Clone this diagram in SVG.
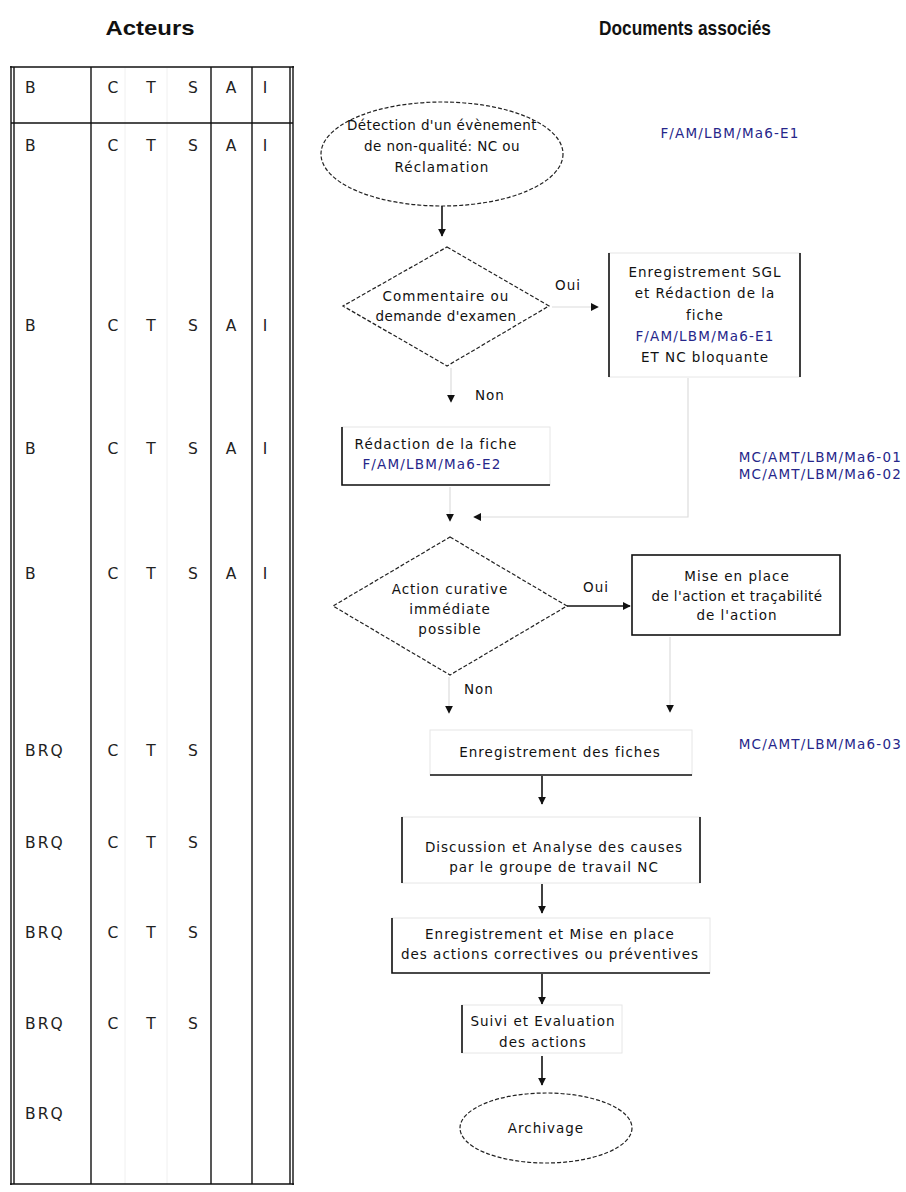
<svg xmlns="http://www.w3.org/2000/svg" width="906" height="1192" viewBox="0 0 906 1192">
<defs>
<style>
text{font-family:"DejaVu Sans","Liberation Sans",sans-serif;font-size:13.5px;letter-spacing:1px;fill:#111}
.hd{font-family:"Liberation Sans",Arial,sans-serif;font-weight:bold;font-size:21px;letter-spacing:0;fill:#111}
.tb{font-size:15.5px;letter-spacing:2px;fill:#222}
.c{text-anchor:middle}
.ref{fill:#26268a;font-size:13.5px;letter-spacing:1.2px}
.ln{stroke:#111;stroke-width:1.6;fill:none}
.tl{stroke:#111;stroke-width:1.4;fill:none}
.fa{stroke:#e6e6e6;stroke-width:1;fill:none}
.dash{stroke:#222;stroke-width:1.2;stroke-dasharray:4 2;fill:#fff}
.arr{stroke:#111;stroke-width:1.6;fill:none;marker-end:url(#ah)}
.farr{stroke:#dcdcdc;stroke-width:1.2;fill:none;marker-end:url(#ah)}
.tight{letter-spacing:0.4px}
</style>
<marker id="ah" viewBox="0 0 10 10" refX="9" refY="5" markerWidth="8" markerHeight="8" markerUnits="userSpaceOnUse" orient="auto">
<path d="M0,0 L10,5 L0,10 z" fill="#111" stroke="none"/>
</marker>
</defs>
<rect width="906" height="1192" fill="#fff"/>

<g id="headers">
<text class="hd c" x="150" y="35" textLength="89" lengthAdjust="spacingAndGlyphs">Acteurs</text>
<text class="hd c" x="685" y="35" textLength="172" lengthAdjust="spacingAndGlyphs">Documents associés</text>
</g>

<g id="table">
<line x1="125" y1="68" x2="125" y2="1184" stroke="#f0f0f0" stroke-width="1"/>
<line x1="167" y1="68" x2="167" y2="1184" stroke="#f0f0f0" stroke-width="1"/>
<line class="tl" x1="10" y1="67" x2="294" y2="67" stroke-width="2"/>
<line class="tl" x1="11" y1="123" x2="293" y2="123"/>
<line class="tl" x1="10" y1="1184" x2="294" y2="1184" stroke-width="1.6"/>
<line class="tl" x1="11" y1="66" x2="11" y2="1185"/>
<line class="tl" x1="14" y1="67" x2="14" y2="1184"/>
<line class="tl" x1="91" y1="67" x2="91" y2="1184"/>
<line class="tl" x1="211" y1="67" x2="211" y2="1184"/>
<line class="tl" x1="252" y1="67" x2="252" y2="1184"/>
<line class="tl" x1="290" y1="67" x2="290" y2="1184"/>
<line class="tl" x1="293" y1="66" x2="293" y2="1185"/>
<g class="tb">
<text class="tb" x="25" y="93">B</text><text class="tb c" x="114" y="93">C</text><text class="tb c" x="152" y="93">T</text><text class="tb c" x="194" y="93">S</text><text class="tb c" x="232" y="93">A</text><text class="tb c" x="266" y="93">I</text>
<text class="tb" x="25" y="151">B</text><text class="tb c" x="114" y="151">C</text><text class="tb c" x="152" y="151">T</text><text class="tb c" x="194" y="151">S</text><text class="tb c" x="232" y="151">A</text><text class="tb c" x="266" y="151">I</text>
<text class="tb" x="25" y="331">B</text><text class="tb c" x="114" y="331">C</text><text class="tb c" x="152" y="331">T</text><text class="tb c" x="194" y="331">S</text><text class="tb c" x="232" y="331">A</text><text class="tb c" x="266" y="331">I</text>
<text class="tb" x="25" y="454">B</text><text class="tb c" x="114" y="454">C</text><text class="tb c" x="152" y="454">T</text><text class="tb c" x="194" y="454">S</text><text class="tb c" x="232" y="454">A</text><text class="tb c" x="266" y="454">I</text>
<text class="tb" x="25" y="579">B</text><text class="tb c" x="114" y="579">C</text><text class="tb c" x="152" y="579">T</text><text class="tb c" x="194" y="579">S</text><text class="tb c" x="232" y="579">A</text><text class="tb c" x="266" y="579">I</text>
<text class="tb" x="25" y="756">BRQ</text><text class="tb c" x="114" y="756">C</text><text class="tb c" x="152" y="756">T</text><text class="tb c" x="194" y="756">S</text>
<text class="tb" x="25" y="848">BRQ</text><text class="tb c" x="114" y="848">C</text><text class="tb c" x="152" y="848">T</text><text class="tb c" x="194" y="848">S</text>
<text class="tb" x="25" y="938">BRQ</text><text class="tb c" x="114" y="938">C</text><text class="tb c" x="152" y="938">T</text><text class="tb c" x="194" y="938">S</text>
<text class="tb" x="25" y="1029">BRQ</text><text class="tb c" x="114" y="1029">C</text><text class="tb c" x="152" y="1029">T</text><text class="tb c" x="194" y="1029">S</text>
<text class="tb" x="25" y="1119">BRQ</text>
</g>
</g>

<g id="connectors">
<line class="arr" x1="442" y1="206" x2="442" y2="236"/>
<line class="farr" x1="552" y1="307" x2="598" y2="307"/>
<line class="farr" x1="451" y1="368" x2="451" y2="402"/>
<text x="475" y="400">Non</text>
<text x="555" y="290">Oui</text>
<line class="farr" x1="450" y1="487" x2="450" y2="521"/>
<polyline class="farr" points="688,378 688,517 474,517"/>
<line class="arr" x1="567" y1="606" x2="630" y2="606"/>
<text x="583" y="592">Oui</text>
<line class="farr" x1="449" y1="677" x2="449" y2="713"/>
<text x="464" y="694">Non</text>
<line class="farr" x1="670" y1="637" x2="670" y2="712"/>
<line class="arr" x1="542" y1="776" x2="542" y2="804"/>
<line class="arr" x1="542" y1="884" x2="542" y2="913"/>
<line class="arr" x1="542" y1="974" x2="542" y2="1004"/>
<line class="arr" x1="542" y1="1056" x2="542" y2="1085"/>
</g>

<g id="n_detection">
<ellipse class="dash" cx="442" cy="154" rx="121" ry="52"/>
<text class="c tight" x="442" y="130">Détection d'un évènement</text>
<text class="c tight" x="442" y="151">de non-qualité: NC ou</text>
<text class="c" x="442" y="172">Réclamation</text>
</g>

<g id="ref_e1">
<text class="ref c" x="730" y="138">F/AM/LBM/Ma6-E1</text>
</g>

<g id="n_commentaire">
<polygon class="dash" points="447,247 549,306 447,366 343,306"/>
<text class="c" x="446" y="301">Commentaire ou</text>
<text class="c tight" x="446" y="321">demande d'examen</text>
</g>

<g id="n_enregistrement_sgl">
<rect x="609" y="253" width="191" height="124" class="fa"/>
<line class="ln" x1="609" y1="253" x2="609" y2="377"/>
<line class="ln" x1="800" y1="253" x2="800" y2="377"/>
<text class="c" x="705" y="277">Enregistrement SGL</text>
<text class="c" x="705" y="298">et Rédaction de la</text>
<text class="c" x="705" y="320">fiche</text>
<text class="ref c" x="705" y="341">F/AM/LBM/Ma6-E1</text>
<text class="c" x="705" y="362">ET NC bloquante</text>
</g>

<g id="n_redaction">
<rect x="342" y="427" width="208" height="58" class="fa"/>
<polyline class="ln" points="342,427 342,485 550,485"/>
<text class="c" x="436" y="449">Rédaction de la fiche</text>
<text class="ref c" x="432" y="469">F/AM/LBM/Ma6-E2</text>
</g>

<g id="ref_mc12">
<text class="ref" x="902" y="462" text-anchor="end">MC/AMT/LBM/Ma6-01</text>
<text class="ref" x="902" y="479" text-anchor="end">MC/AMT/LBM/Ma6-02</text>
</g>

<g id="n_action_curative">
<polygon class="dash" points="450,537 567,606 450,675 333,606"/>
<text class="c" x="450" y="594">Action curative</text>
<text class="c" x="450" y="614">immédiate</text>
<text class="c" x="450" y="634">possible</text>
</g>

<g id="n_mise_en_place">
<rect class="ln" x="632" y="555" width="208" height="80"/>
<text class="c" x="737" y="581">Mise en place</text>
<text class="c tight" x="737" y="601">de l'action et traçabilité</text>
<text class="c" x="737" y="620">de l'action</text>
</g>

<g id="n_enregistrement_fiches">
<rect x="430" y="730" width="262" height="45" class="fa"/>
<line class="ln" x1="430" y1="775" x2="692" y2="775"/>
<text class="c" x="560" y="757">Enregistrement des fiches</text>
</g>

<g id="ref_mc3">
<text class="ref" x="902" y="749" text-anchor="end">MC/AMT/LBM/Ma6-03</text>
</g>

<g id="n_discussion">
<rect x="402" y="817" width="298" height="66" class="fa"/>
<line class="ln" x1="402" y1="817" x2="402" y2="883"/>
<line class="ln" x1="700" y1="817" x2="700" y2="883"/>
<text class="c" x="554" y="852">Discussion et Analyse des causes</text>
<text class="c" x="554" y="872">par le groupe de travail NC</text>
</g>

<g id="n_enregistrement_mise">
<rect x="392" y="918" width="318" height="55" class="fa"/>
<polyline class="ln" points="392,918 392,973 710,973"/>
<text class="c" x="550" y="939">Enregistrement et Mise en place</text>
<text class="c" x="550" y="959">des actions correctives ou préventives</text>
</g>

<g id="n_suivi">
<rect x="462" y="1005" width="160" height="48" class="fa"/>
<line class="ln" x1="462" y1="1005" x2="462" y2="1053"/>
<text class="c" x="543" y="1026">Suivi et Evaluation</text>
<text class="c" x="543" y="1047">des actions</text>
</g>

<g id="n_archivage">
<ellipse class="dash" cx="546" cy="1128" rx="86" ry="35"/>
<text class="c" x="546" y="1133">Archivage</text>
</g>
</svg>
